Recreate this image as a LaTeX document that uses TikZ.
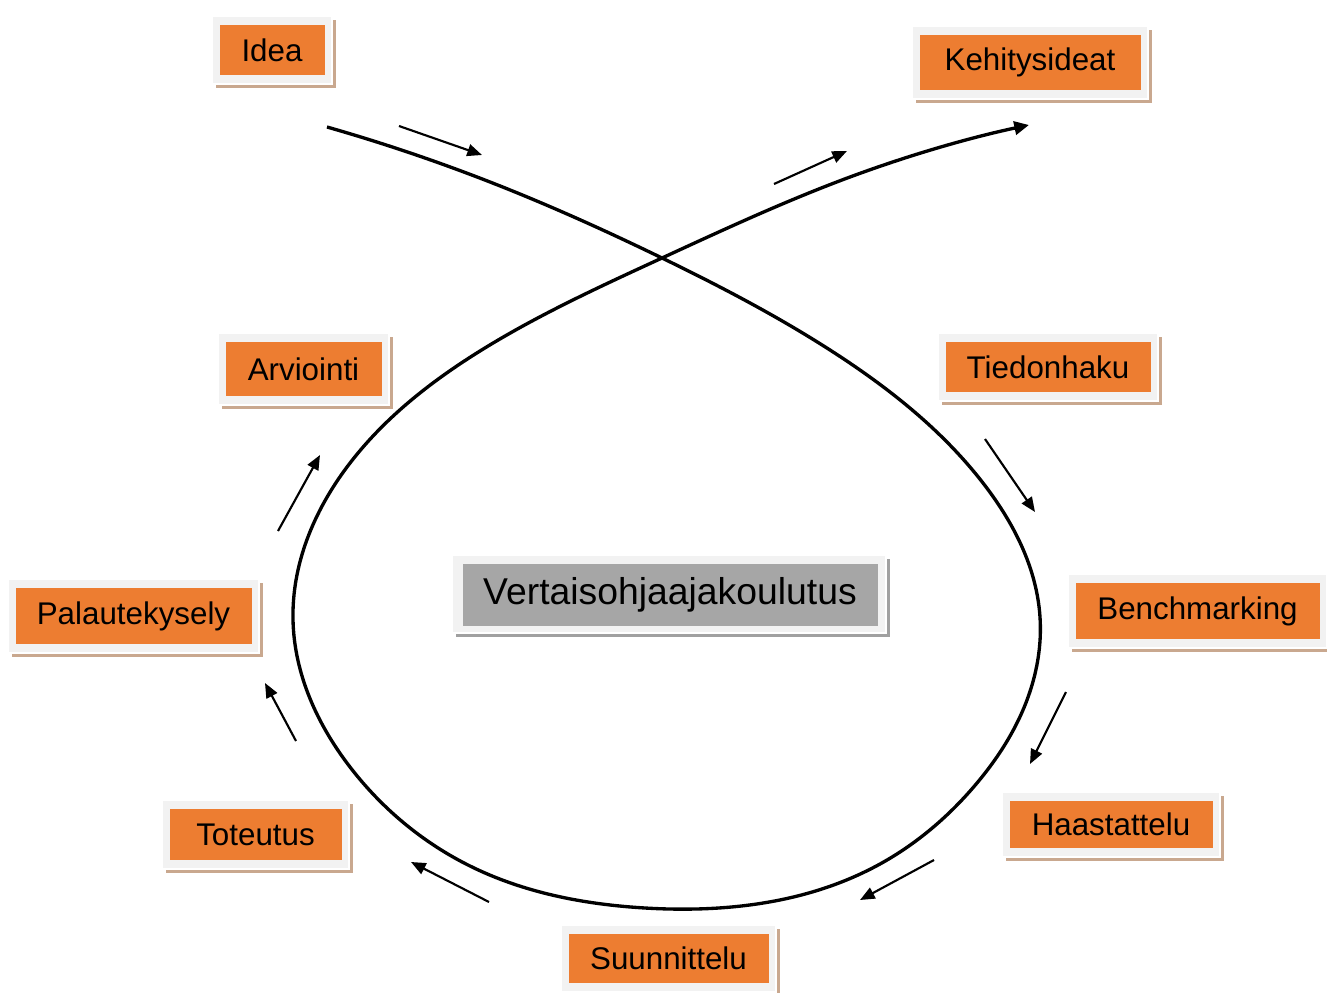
\documentclass[tikz,border=0pt]{standalone}
\usepackage{fontspec}
\setmainfont{Liberation Sans}
\usetikzlibrary{arrows.meta,hobby}
\definecolor{boxorange}{RGB}{237,125,49}
\definecolor{boxgray}{RGB}{166,166,166}
\definecolor{frame}{RGB}{242,242,242}
\definecolor{shadowtan}{RGB}{201,168,143}
\definecolor{shadowgray}{RGB}{160,160,160}
\tikzset{
  label box/.style={fill=#1, inner sep=0pt, text=black, font=\fontsize{23.5}{28}\selectfont},
  flow/.style={line width=2.5pt, -{Triangle[length=11pt,width=10pt]}},
  hint/.style={line width=1.6pt, -{Triangle[length=11pt,width=9pt]}},
}
% name, x1, y1, x2, y2, fill colour, shadow colour, text
\newcommand\procbox[8]{%
  \fill[#7] (#2+4,#3+4) rectangle (#4+4,#5+4);
  \fill[frame, draw=white, line width=0.8pt] (#2,#3) rectangle (#4,#5);
  \node[label box=#6, minimum width={(#4-#2-15)*0.75pt}, minimum height={(#5-#3-18)*0.75pt}]
    (#1) at ({(#2+#4)/2},{(#3+#5)/2}) {#8};
}
\begin{document}
\begin{tikzpicture}[x=0.75pt, y=-0.75pt]
\useasboundingbox (0,0) rectangle (1327,992);
\fill[white] (0,0) rectangle (1327,992);

\procbox{idea}{212}{16}{332}{84}{boxorange}{shadowtan}{Idea}
\procbox{kehitys}{912}{26}{1148}{99}{boxorange}{shadowtan}{Kehitysideat}
\procbox{tiedon}{938}{333}{1158}{401}{boxorange}{shadowtan}{Tiedonhaku}
\procbox{arvi}{218}{333}{389}{405}{boxorange}{shadowtan}{Arviointi}
\procbox{bench}{1068}{574}{1327}{648}{boxorange}{shadowtan}{Benchmarking}
\procbox{palaute}{8}{579}{259}{653}{boxorange}{shadowtan}{Palautekysely}
\procbox{haast}{1002}{792}{1220}{857}{boxorange}{shadowtan}{Haastattelu}
\procbox{toteutus}{162}{800}{349}{869}{boxorange}{shadowtan}{Toteutus}
\procbox{suunn}{561}{925}{776}{992}{boxorange}{shadowtan}{Suunnittelu}

\fill[shadowgray] (456,559) rectangle (890,637);
\fill[frame, draw=white, line width=0.8pt] (452,555) rectangle (886,633);
\node[fill=boxgray, inner sep=0pt, minimum width={415*0.75pt}, minimum height={62*0.75pt},
      font=\fontsize{28}{33}\selectfont] (center) at (670,595) {Vertaisohjaajakoulutus};

% big loop
\coordinate (loopstart) at (327,127);
\coordinate (loopend) at (1029,125);
\draw[flow, use Hobby shortcut] (loopstart) .. (490,182) .. (662,258) .. (830,350)
  .. (983,483) .. (1040,617) .. (1027,700) .. (977,783) .. (880,864) .. (645,908)
  .. (470,866) .. (350,767) .. (293,620) .. (347,467) .. (480,351) .. (662,258)
  .. (850,177) .. (loopend);

% direction hints
\coordinate (h1a) at (399,126);  \coordinate (h1b) at (482,155);
\coordinate (h2a) at (774,184);  \coordinate (h2b) at (847,151);
\coordinate (h3a) at (985,439);  \coordinate (h3b) at (1035,512);
\coordinate (h4a) at (1066,692); \coordinate (h4b) at (1030,764);
\coordinate (h5a) at (934,860);  \coordinate (h5b) at (860,900);
\coordinate (h6a) at (489,902);  \coordinate (h6b) at (411,862);
\coordinate (h7a) at (296,741);  \coordinate (h7b) at (265,683);
\coordinate (h8a) at (278,531);  \coordinate (h8b) at (320,455);
\foreach \i in {1,...,8} { \draw[hint] (h\i a) -- (h\i b); }
\end{tikzpicture}
\end{document}
